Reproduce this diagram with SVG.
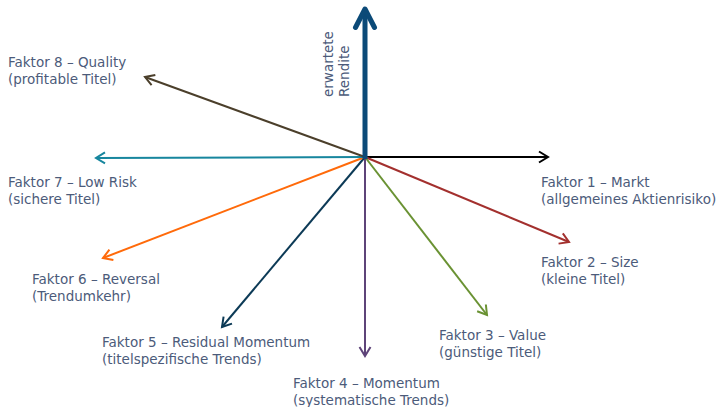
<svg xmlns="http://www.w3.org/2000/svg" width="718" height="407" viewBox="0 0 718 407">
<style>
text{font-family:"DejaVu Sans","Verdana",sans-serif;font-size:13.5px;fill:#4c5b7a}
.c{fill:none;stroke-width:2}
</style>
<defs>
<marker id="m1" markerUnits="userSpaceOnUse" viewBox="-12 -12 24 24" markerWidth="24" markerHeight="24" orient="auto" overflow="visible"><path d="M-9,-5.5 L0,0 L-9,5.5" fill="none" stroke="#000" stroke-width="2"/></marker>
<marker id="m2" markerUnits="userSpaceOnUse" viewBox="-12 -12 24 24" markerWidth="24" markerHeight="24" orient="auto" overflow="visible"><path d="M-9,-5.5 L0,0 L-9,5.5" fill="none" stroke="#a3302e" stroke-width="2"/></marker>
<marker id="m3" markerUnits="userSpaceOnUse" viewBox="-12 -12 24 24" markerWidth="24" markerHeight="24" orient="auto" overflow="visible"><path d="M-9,-5.5 L0,0 L-9,5.5" fill="none" stroke="#6a9233" stroke-width="2"/></marker>
<marker id="m4" markerUnits="userSpaceOnUse" viewBox="-12 -12 24 24" markerWidth="24" markerHeight="24" orient="auto" overflow="visible"><path d="M-9,-5.5 L0,0 L-9,5.5" fill="none" stroke="#5e4479" stroke-width="2"/></marker>
<marker id="m5" markerUnits="userSpaceOnUse" viewBox="-12 -12 24 24" markerWidth="24" markerHeight="24" orient="auto" overflow="visible"><path d="M-9,-5.5 L0,0 L-9,5.5" fill="none" stroke="#0c3a56" stroke-width="2"/></marker>
<marker id="m6" markerUnits="userSpaceOnUse" viewBox="-12 -12 24 24" markerWidth="24" markerHeight="24" orient="auto" overflow="visible"><path d="M-9,-5.5 L0,0 L-9,5.5" fill="none" stroke="#ff6a0a" stroke-width="2"/></marker>
<marker id="m7" markerUnits="userSpaceOnUse" viewBox="-12 -12 24 24" markerWidth="24" markerHeight="24" orient="auto" overflow="visible"><path d="M-9,-5.5 L0,0 L-9,5.5" fill="none" stroke="#17869e" stroke-width="2"/></marker>
<marker id="m8" markerUnits="userSpaceOnUse" viewBox="-12 -12 24 24" markerWidth="24" markerHeight="24" orient="auto" overflow="visible"><path d="M-9,-5.5 L0,0 L-9,5.5" fill="none" stroke="#4b3f2b" stroke-width="2"/></marker>
</defs>
<g id="connectors">
<line class="c" x1="365" y1="157" x2="548" y2="157" stroke="#000" marker-end="url(#m1)"/>
<line class="c" x1="365" y1="157" x2="569" y2="242" stroke="#a3302e" marker-end="url(#m2)"/>
<line class="c" x1="365" y1="157" x2="487" y2="315" stroke="#6a9233" marker-end="url(#m3)"/>
<line class="c" x1="365" y1="157" x2="365" y2="356" stroke="#5e4479" marker-end="url(#m4)"/>
<line class="c" x1="365" y1="157" x2="222" y2="327" stroke="#0c3a56" marker-end="url(#m5)"/>
<line class="c" x1="365" y1="157" x2="103" y2="258" stroke="#ff6a0a" marker-end="url(#m6)"/>
<line class="c" x1="365" y1="157" x2="96" y2="158" stroke="#17869e" marker-end="url(#m7)"/>
<line class="c" x1="365" y1="157" x2="145" y2="77" stroke="#4b3f2b" marker-end="url(#m8)"/>
<g id="axis-y">
<line x1="365" y1="159" x2="365" y2="10" stroke="#0b4a78" stroke-width="5"/>
<path d="M355.5,27.5 L365,9 L374.5,27.5" fill="none" stroke="#0b4a78" stroke-width="5" stroke-linecap="round" stroke-linejoin="round"/>
</g>
</g>
<g id="y-label"><text transform="translate(333,97) rotate(-90)">erwartete</text><text transform="translate(349,97) rotate(-90)">Rendite</text></g>
<g id="f1"><text x="541" y="187">Faktor 1 – Markt</text><text x="541" y="204">(allgemeines Aktienrisiko)</text></g>
<g id="f2"><text x="541" y="267">Faktor 2 – Size</text><text x="541" y="284">(kleine Titel)</text></g>
<g id="f3"><text x="439" y="340">Faktor 3 – Value</text><text x="439" y="357">(günstige Titel)</text></g>
<g id="f4"><text x="293" y="388">Faktor 4 – Momentum</text><text x="293" y="405">(systematische Trends)</text></g>
<g id="f5"><text x="102" y="347">Faktor 5 – Residual Momentum</text><text x="102" y="364">(titelspezifische Trends)</text></g>
<g id="f6"><text x="32" y="284">Faktor 6 – Reversal</text><text x="32" y="301">(Trendumkehr)</text></g>
<g id="f7"><text x="8" y="187">Faktor 7 – Low Risk</text><text x="8" y="204">(sichere Titel)</text></g>
<g id="f8"><text x="8" y="67">Faktor 8 – Quality</text><text x="8" y="84">(profitable Titel)</text></g>
</svg>
